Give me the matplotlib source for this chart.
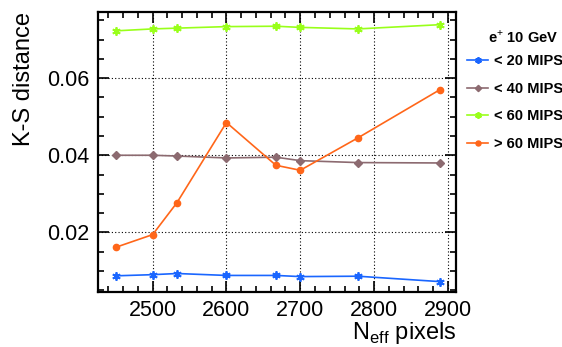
import matplotlib.pyplot as plt
from matplotlib.ticker import MultipleLocator

plt.rcParams['font.family'] = ['Liberation Sans', 'DejaVu Sans']
plt.rcParams['mathtext.fontset'] = 'custom'
plt.rcParams['mathtext.rm'] = 'Liberation Sans'

# pixel counts
npix = [2450, 2500, 2533, 2600, 2667, 2700, 2778, 2889]

ks_lt20 = [0.0087, 0.0090, 0.0093, 0.0088, 0.0088, 0.0085, 0.0086, 0.0072]
ks_lt40 = [0.0400, 0.0400, 0.0398, 0.0393, 0.0395, 0.0386, 0.0381, 0.0380]
ks_lt60 = [0.0723, 0.0728, 0.0730, 0.0734, 0.0735, 0.0732, 0.0728, 0.0739]
ks_gt60 = [0.0161, 0.0194, 0.0277, 0.0485, 0.0374, 0.0361, 0.0445, 0.0570]

labels = ['< 20 MIPS', '< 40 MIPS', '< 60 MIPS', '> 60 MIPS']
colors = ['#1a66ff', '#8c6a70', '#99ff1a', '#ff6619']
star = (6, 2, 0)

fig = plt.figure(figsize=(5.62, 3.47), dpi=100)
ax = fig.add_axes([0.1744, 0.1585, 0.637, 0.807])

ax.plot(npix, ks_lt20, color=colors[0], marker=star, ms=6, mew=1.3, lw=1.2, label=labels[0])
ax.plot(npix, ks_lt40, color=colors[1], marker='D', ms=4, lw=1.2, label=labels[1])
ax.plot(npix, ks_lt60, color=colors[2], marker=star, ms=6, mew=1.3, lw=1.2, label=labels[2])
ax.plot(npix, ks_gt60, color=colors[3], marker='o', ms=4.5, lw=1.2, label=labels[3])

ax.set_xlim(2426, 2911)
ax.set_ylim(0.0045, 0.0772)
ax.xaxis.set_major_locator(MultipleLocator(100))
ax.xaxis.set_minor_locator(MultipleLocator(20))
ax.yaxis.set_major_locator(MultipleLocator(0.02))
ax.yaxis.set_minor_locator(MultipleLocator(0.005))
ax.yaxis.set_major_formatter(plt.FuncFormatter(lambda v, p: '%.2f' % v))

ax.tick_params(which='both', direction='in', top=True, right=True, labelsize=15.5, width=1.2)
ax.tick_params(which='major', length=8, pad=6)
ax.tick_params(axis='x', which='major', pad=6)
ax.tick_params(which='minor', length=4)
for s in ax.spines.values():
    s.set_linewidth(1.6)
ax.grid(True, which='major', color='black', linestyle=(0, (1, 2)), linewidth=0.8)

fig.text(0.043, 0.965, 'K-S distance', rotation=90, fontsize=17, ha='center', va='top')
fig.text(0.813, 0.024, r'N$_{\mathrm{eff}}$ pixels', fontsize=17, ha='right', va='baseline')

fig.text(0.993, 0.893, r'e$^{+}$ 10 GeV', fontsize=10.5, fontweight='bold', ha='right', va='center')
fig.legend(loc='upper left', bbox_to_anchor=(0.831, 0.843), frameon=False,
           prop={'size': 10.5, 'weight': 'bold'}, handlelength=1.45, handletextpad=0.4,
           labelspacing=0.92, borderpad=0, borderaxespad=0, markerscale=0.8)

fig.savefig('out.png', dpi=100)
